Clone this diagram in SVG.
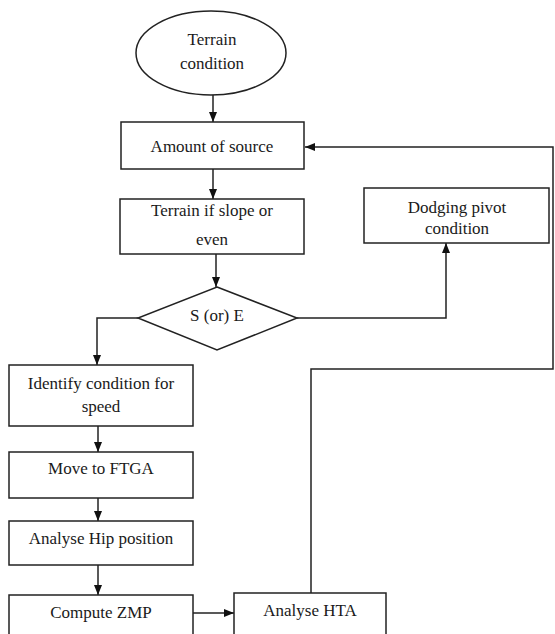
<svg xmlns="http://www.w3.org/2000/svg" width="555" height="634" viewBox="0 0 555 634">
<style>
.s{fill:#fff;stroke:#222;stroke-width:1.5}
.t{font-size:17px;fill:#1a1a1a;text-anchor:middle}
.c{fill:none;stroke:#222;stroke-width:1.5}
</style>
<defs>
<marker id="a" viewBox="0 0 10 10" refX="10" refY="5" markerWidth="10" markerHeight="10" markerUnits="userSpaceOnUse" orient="auto">
<path d="M0,1 L10,5 L0,9 Z" fill="#111"/>
</marker>
</defs>
<rect width="555" height="634" fill="#fff"/>
<g id="connectors">
<path class="c" d="M213,95 V122" marker-end="url(#a)"/>
<path class="c" d="M213,169 V199" marker-end="url(#a)"/>
<path class="c" d="M216,254 V287" marker-end="url(#a)"/>
<path class="c" d="M138,318 H97 V365" marker-end="url(#a)"/>
<path class="c" d="M297,318 H446 V243" marker-end="url(#a)"/>
<path class="c" d="M98,426 V452" marker-end="url(#a)"/>
<path class="c" d="M98,498 V521" marker-end="url(#a)"/>
<path class="c" d="M98,565 V595" marker-end="url(#a)"/>
<path class="c" d="M193,613 H234" marker-end="url(#a)"/>
<path class="c" d="M311,593 V369 H553 V147 H305" marker-end="url(#a)"/>
</g>
<g font-family="'Liberation Serif', 'Times New Roman', Tinos, 'Noto Serif', 'DejaVu Serif', FreeSerif, serif">
<g id="terrain-condition">
<ellipse class="s" cx="211" cy="53" rx="75" ry="42"/>
<text class="t" x="212" y="45">Terrain</text>
<text class="t" x="212" y="69">condition</text>
</g>
<g id="amount-of-source">
<rect class="s" x="121" y="122" width="183" height="47"/>
<text class="t" x="212" y="152">Amount of source</text>
</g>
<g id="terrain-slope">
<rect class="s" x="120" y="199" width="184" height="55"/>
<text class="t" x="212" y="216">Terrain if slope or</text>
<text class="t" x="212" y="245">even</text>
</g>
<g id="decision">
<polygon class="s" points="217,287 297,318 217,350 138,318"/>
<text class="t" x="217" y="321">S (or) E</text>
</g>
<g id="dodging-pivot">
<rect class="s" x="364" y="188" width="185" height="55"/>
<text class="t" x="457" y="213">Dodging pivot</text>
<text class="t" x="457" y="234">condition</text>
</g>
<g id="identify-condition">
<rect class="s" x="9" y="365" width="184" height="61"/>
<text class="t" x="101" y="389">Identify condition for</text>
<text class="t" x="101" y="412">speed</text>
</g>
<g id="move-ftga">
<rect class="s" x="9" y="452" width="184" height="46"/>
<text class="t" x="101" y="474">Move to FTGA</text>
</g>
<g id="analyse-hip">
<rect class="s" x="9" y="521" width="184" height="44"/>
<text class="t" x="101" y="544">Analyse Hip position</text>
</g>
<g id="compute-zmp">
<rect class="s" x="9" y="595" width="184" height="50"/>
<text class="t" x="101" y="618">Compute ZMP</text>
</g>
<g id="analyse-hta">
<rect class="s" x="234" y="593" width="152" height="52"/>
<text class="t" x="310" y="616">Analyse HTA</text>
</g>
</g>
</svg>
